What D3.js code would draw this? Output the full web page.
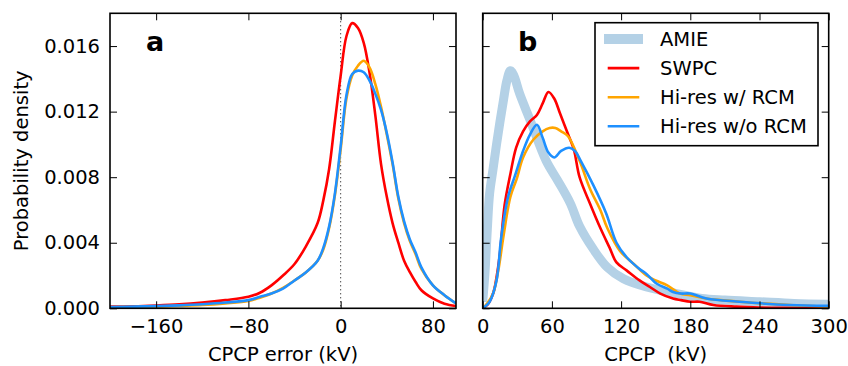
<!DOCTYPE html>
<html>
<head>
<meta charset="utf-8">
<script src="https://cdn.jsdelivr.net/npm/d3@7"></script>
<style>
  html, body { margin: 0; padding: 0; background: #fff; }
  svg { display: block; font-family: "DejaVu Sans", sans-serif; }
</style>
</head>
<body>
<svg id="chart" width="848" height="366"></svg>
<script>
// ---------- Data ----------
// Panel a: CPCP error (kV)
const errX = [-200,-180,-160,-140,-120,-100,-80,-70,-60,-50,-40,-30,-20,-15,-10,-5,0,5,10,15,20,25,30,35,40,45,50,55,60,65,70,80,90,100];
const errSWPC = [0.0001,0.00012,0.00017,0.00024,0.00035,0.0005,0.0007,0.00095,0.0014,0.002,0.0027,0.0038,0.0052,0.0066,0.0085,0.0114,0.0142,0.0166,0.0174,0.0171,0.0162,0.0144,0.0118,0.0088,0.0068,0.0052,0.0040,0.0029,0.0022,0.0016,0.0011,0.0006,0.00028,0.00014];
const errHiresRCM = [0.00006,0.00008,0.0001,0.00015,0.0002,0.0003,0.00045,0.00065,0.0009,0.00125,0.0017,0.0022,0.0029,0.0036,0.0049,0.0069,0.0097,0.0128,0.0142,0.0148,0.0151,0.0147,0.0137,0.0123,0.0106,0.0088,0.0067,0.0052,0.0041,0.0033,0.0024,0.0014,0.0008,0.0003];
const errHiresNoRCM = [0.00008,0.0001,0.00013,0.00018,0.00025,0.00035,0.0005,0.0007,0.0009,0.0012,0.0017,0.0022,0.0029,0.0037,0.0050,0.0070,0.0099,0.0130,0.0143,0.0145,0.0144,0.0139,0.0131,0.0121,0.0107,0.0089,0.0068,0.0053,0.0042,0.0034,0.0025,0.0014,0.0008,0.0003];

// Panel b: CPCP (kV)
const amieX = [0,2,4,6,9,12,15,18,21,24,27,32,41,55,65,76,84,96,108,122,142,168,190,210,240,270,300];
const amieY = [0.0004,0.0022,0.0048,0.0070,0.0085,0.0100,0.0114,0.0127,0.0139,0.0145,0.0142,0.0131,0.0115,0.0090,0.0078,0.0064,0.0050,0.0036,0.0025,0.0018,0.0013,0.0009,0.0006,0.0005,0.0004,0.0003,0.00025];
const swpcX = [0,4,9,12,15,19,24,29,35,41,47,52,57,62,67,73,79,84,93,102,110,116,125,136,145,154,165,172,180,188,200,220,240,270,300];
const swpcY = [0,0.0002,0.0009,0.0019,0.0034,0.0063,0.0082,0.0098,0.0108,0.0114,0.0118,0.0125,0.0132,0.0128,0.0119,0.0108,0.0097,0.0080,0.0064,0.0049,0.0037,0.0028,0.0023,0.0017,0.0013,0.0009,0.0006,0.0005,0.0004,0.0004,0.0002,0.0001,0.00005,0.00003,0.00002];
const rcmX = [0,4,9,13.5,18,24,29.5,35,44,52,58,63,68,74,84,93,102,108,119,131,142,150,160,171,180,194,223,266,300];
const rcmY = [0,0.0003,0.0009,0.0023,0.0044,0.0068,0.0079,0.0092,0.0103,0.0108,0.0110,0.0110,0.0108,0.0105,0.0090,0.0073,0.0060,0.0049,0.0035,0.0027,0.0020,0.0017,0.0014,0.0009,0.0008,0.0006,0.0004,0.0002,0.0001];
const noRcmX = [0,2,6,12,16,22,28,35,41,47,52,57,62,68,75,80,85,96,107,116,125,136,142,151,160,165,172,180,194,223,266,300];
const noRcmY = [0,0.0001,0.0004,0.0017,0.0043,0.0068,0.0081,0.0096,0.0106,0.0112,0.0104,0.0095,0.0092,0.0096,0.0098,0.0096,0.0090,0.0075,0.0058,0.0040,0.0031,0.0024,0.0021,0.0015,0.0012,0.0010,0.0009,0.0009,0.0006,0.0004,0.0002,0.00015];

// Ticks / labels
const yTicks = [0, 0.004, 0.008, 0.012, 0.016];
const errTicks = [-160, -80, 0, 80];
const cpcpTicks = [0, 60, 120, 180, 240, 300];
const legendLabels = ["AMIE", "SWPC", "Hi-res w/ RCM", "Hi-res w/o RCM"];
const legendColors = ["#b4d1e6", "#ff0000", "#ffa500", "#1e90ff"];
const legendWidths = [10, 2.6, 2.6, 2.6];

// ---------- Drawing ----------
const svg = d3.select("#chart");
const FONT = 19.5;
const plotTop = 13.3, plotBottom = 308.3;
const y = d3.scaleLinear().domain([0, 0.018]).range([plotBottom, plotTop]);

const xA = d3.scaleLinear().domain([-200, 100]).range([110, 456]);
const xB = d3.scaleLinear().domain([0, 300]).range([482.7, 828.7]);

function clip(id, x) {
  svg.append("clipPath").attr("id", id).append("rect")
    .attr("x", x.range()[0]).attr("y", plotTop)
    .attr("width", x.range()[1] - x.range()[0]).attr("height", plotBottom - plotTop);
}
clip("clipA", xA); clip("clipB", xB);

function linePath(x, xs, ys) {
  return d3.line().x((d, i) => x(xs[i])).y(d => y(d))
    .curve(d3.curveCatmullRom.alpha(0.5))(ys);
}

function drawLine(g, x, xs, ys, color, w) {
  g.append("path").attr("d", linePath(x, xs, ys))
    .attr("fill", "none").attr("stroke", color).attr("stroke-width", w)
    .attr("stroke-linejoin", "round");
}

function axes(x, ticks, showYLabels) {
  const g = svg.append("g");
  g.append("g").attr("transform", `translate(0,${plotBottom})`)
    .call(d3.axisBottom(x).tickValues(ticks).tickSize(-7).tickPadding(11).tickFormat(d3.format("d")));
  g.append("g").attr("transform", `translate(0,${plotTop})`)
    .call(d3.axisTop(x).tickValues(ticks).tickSize(-7).tickFormat(""));
  g.append("g").attr("transform", `translate(${x.range()[0]},0)`)
    .call(d3.axisLeft(y).tickValues(yTicks).tickSize(-7).tickPadding(10)
      .tickFormat(showYLabels ? d3.format(".3f") : ""));
  g.append("g").attr("transform", `translate(${x.range()[1]},0)`)
    .call(d3.axisRight(y).tickValues(yTicks).tickSize(-7).tickFormat(""));
  g.selectAll(".domain").remove();
  g.selectAll(".tick line").attr("stroke", "#000").attr("stroke-width", 1);
  g.selectAll(".tick text").attr("font-size", FONT).attr("fill", "#000")
    .attr("font-family", "DejaVu Sans, sans-serif");
  g.append("rect").attr("x", x.range()[0]).attr("y", plotTop)
    .attr("width", x.range()[1] - x.range()[0]).attr("height", plotBottom - plotTop)
    .attr("fill", "none").attr("stroke", "#000").attr("stroke-width", 1.6);
}

// Panel a
const gA = svg.append("g").attr("clip-path", "url(#clipA)");
gA.append("line").attr("x1", xA(0)).attr("x2", xA(0)).attr("y1", plotTop).attr("y2", plotBottom)
  .attr("stroke", "#000").attr("stroke-width", 1).attr("stroke-dasharray", "1,3");
drawLine(gA, xA, errX, errSWPC, legendColors[1], 2.6);
drawLine(gA, xA, errX, errHiresRCM, legendColors[2], 2.6);
drawLine(gA, xA, errX, errHiresNoRCM, legendColors[3], 2.6);
axes(xA, errTicks, true);

// Panel b
const gB = svg.append("g").attr("clip-path", "url(#clipB)");
drawLine(gB, xB, amieX, amieY, legendColors[0], 9);
drawLine(gB, xB, swpcX, swpcY, legendColors[1], 2.6);
drawLine(gB, xB, rcmX, rcmY, legendColors[2], 2.6);
drawLine(gB, xB, noRcmX, noRcmY, legendColors[3], 2.6);
axes(xB, cpcpTicks, false);

// Panel letters
svg.append("text").attr("x", 146).attr("y", 50.5).attr("font-size", 27)
  .attr("font-weight", "bold").text("a");
svg.append("text").attr("x", 518).attr("y", 50.5).attr("font-size", 27)
  .attr("font-weight", "bold").text("b");

// Axis labels
svg.append("text").attr("x", (xA.range()[0] + xA.range()[1]) / 2).attr("y", 361)
  .attr("text-anchor", "middle").attr("font-size", FONT).text("CPCP error (kV)");
svg.append("text").attr("x", (xB.range()[0] + xB.range()[1]) / 2).attr("y", 361)
  .attr("text-anchor", "middle").attr("font-size", FONT)
  .style("white-space", "pre").text("CPCP  (kV)");
svg.append("text").attr("transform", `translate(28,${(plotTop + plotBottom) / 2}) rotate(-90)`)
  .attr("text-anchor", "middle").attr("font-size", FONT).text("Probability density");

// Legend
const lg = svg.append("g");
lg.append("rect").attr("x", 595).attr("y", 22.7).attr("width", 223).attr("height", 123)
  .attr("fill", "#fff").attr("stroke", "#000").attr("stroke-width", 1.6);
legendLabels.forEach((lab, i) => {
  const cy = 39 + i * 29.1;
  lg.append("line").attr("x1", 609).attr("x2", 638).attr("y1", cy).attr("y2", cy)
    .attr("stroke", legendColors[i]).attr("stroke-width", legendWidths[i])
    .attr("stroke-linecap", "square");
  lg.append("text").attr("x", 660).attr("y", cy).attr("dy", "0.36em")
    .attr("font-size", FONT).text(lab);
});
</script>
</body>
</html>
